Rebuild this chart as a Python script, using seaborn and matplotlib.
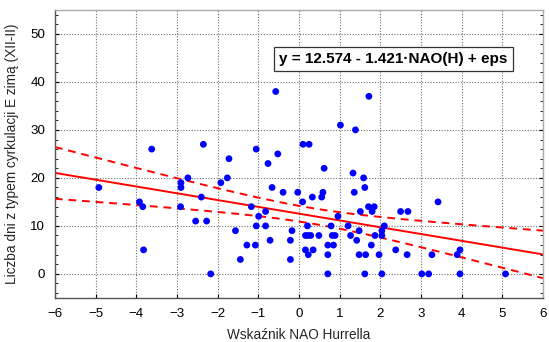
import numpy as np
import pandas as pd
import matplotlib
matplotlib.use("Agg")
import matplotlib.pyplot as plt
from matplotlib.ticker import MultipleLocator
import seaborn as sns

# ---- data ----
nao = [-4.92, -3.92, -3.84, -3.82, -3.62, -2.90, -2.90, -2.73, -2.91, -2.40,
       -2.35, -2.54, -2.27, -2.17, -1.92, -1.76, -1.72, -1.56, -1.44, -1.28,
       -1.07, -1.17, -1.05, -1.05, -0.99, -0.82, -0.82, -0.76, -0.71, -0.66,
       -0.57, -0.52, -0.39, -0.21, -0.21, -0.17, -0.03, 0.09, 0.10, 0.25,
       0.16, 0.22, 0.29, 0.21, 0.16, 0.35, 0.23, 0.33, 0.49, 0.56,
       0.59, 0.62, 0.71, 0.85, 0.71, 0.71, 0.79, 0.82, 0.89, 0.96,
       1.02, 1.21, 1.27, 1.33, 1.36, 1.39, 1.42, 1.48, 1.48, 1.64,
       1.51, 1.59, 1.62, 1.62, 1.71, 1.85, 1.72, 1.78, 1.80, 1.87,
       2.04, 2.04, 1.97, 2.04, 2.10, 2.38, 2.50, 2.68, 2.66, 3.02,
       3.19, 3.27, 3.42, 3.89, 3.96, 3.96, 5.08]
days = [18, 15, 14, 5, 26, 19, 18, 20, 14, 16,
        27, 11, 11, 0, 19, 20, 24, 9, 3, 6,
        6, 14, 26, 10, 12, 13, 10, 23, 7, 18,
        38, 25, 17, 7, 3, 9, 17, 15, 27, 27,
        8, 8, 8, 10, 5, 5, 4, 16, 8, 16,
        17, 22, 6, 6, 4, 0, 10, 8, 8, 12,
        31, 10, 8, 21, 17, 30, 7, 9, 4, 4,
        13, 20, 18, 0, 14, 14, 37, 6, 13, 8,
        8, 9, 4, 0, 10, 5, 13, 13, 4, 0,
        0, 4, 15, 4, 5, 0, 0]

x_ticks = [-6, -5, -4, -3, -2, -1, 0, 1, 2, 3, 4, 5, 6]
y_ticks = [0, 10, 20, 30, 40, 50]
equation = "y = 12.574 - 1.421\u00b7NAO(H) + eps"
xlabel = "Wskaźnik NAO Hurrella"
ylabel = "Liczba dni z typem cyrkulacji E zimą (XII-II)"

df = pd.DataFrame({"nao": nao, "days": days})

# ---- least squares fit with 95% confidence band of the mean ----
x = df["nao"].to_numpy(float)
y = df["days"].to_numpy(float)
n = len(x)
xb = x.mean()
sxx = ((x - xb) ** 2).sum()
b1 = ((x - xb) * (y - y.mean())).sum() / sxx
b0 = y.mean() - b1 * xb
res = y - (b0 + b1 * x)
s = np.sqrt((res ** 2).sum() / (n - 2))
t975 = 1.985
xg = np.linspace(-6, 6, 200)
yg = b0 + b1 * xg
hw = t975 * s * np.sqrt(1.0 / n + (xg - xb) ** 2 / sxx)
fit = pd.DataFrame({"x": xg, "fit": yg, "lo": yg - hw, "hi": yg + hw})

# ---- plot ----
sns.set_theme(style="white")
plt.rcParams["font.family"] = ["Liberation Sans", "DejaVu Sans"]

fig = plt.figure(figsize=(5.49, 3.42), dpi=100)
ax = fig.add_axes([0.100, 0.129, 0.889, 0.842])

sns.scatterplot(data=df, x="nao", y="days", ax=ax, color="#0000ff",
                s=24, edgecolor="none", zorder=3)
sns.lineplot(data=fit, x="x", y="fit", ax=ax, color="#ff0000", lw=1.4, zorder=2)
sns.lineplot(data=fit, x="x", y="lo", ax=ax, color="#ff0000", lw=1.4,
             dashes=False, zorder=2).lines[-1].set_dashes([4, 3])
sns.lineplot(data=fit, x="x", y="hi", ax=ax, color="#ff0000", lw=1.4,
             dashes=False, zorder=2).lines[-1].set_dashes([4, 3])

ax.set_xlim(-6, 6)
ax.set_ylim(-5, 55)
ax.set_xticks(x_ticks)
ax.set_yticks(y_ticks)
ax.yaxis.set_minor_locator(MultipleLocator(2))
ax.grid(True, which="major", color="#707070", linestyle=(0, (1, 1.5)), lw=0.8)
ax.tick_params(axis="both", which="both", direction="in", labelsize=9.6,
               colors="#000000", top=False, right=True, left=True, bottom=True)
ax.tick_params(axis="both", which="major", length=3, width=0.8, pad=7)
ax.tick_params(axis="y", which="minor", length=2, width=0.6, right=True)
for side, sp in ax.spines.items():
    sp.set_color("#555555" if side in ("left", "bottom") else "#aaaaaa")
    sp.set_linewidth(1.0)

ax.set_xlabel(xlabel, fontsize=9.8, labelpad=6)
ax.set_ylabel(ylabel, fontsize=9.8, labelpad=8)

ax.text(0.694, 0.830, equation, transform=ax.transAxes, ha="center", va="center",
        fontsize=11, fontweight="bold", color="black",
        bbox=dict(boxstyle="square,pad=0.35", fc="white", ec="#333333", lw=0.9),
        zorder=5)

fig.savefig("out.png", dpi=100)
